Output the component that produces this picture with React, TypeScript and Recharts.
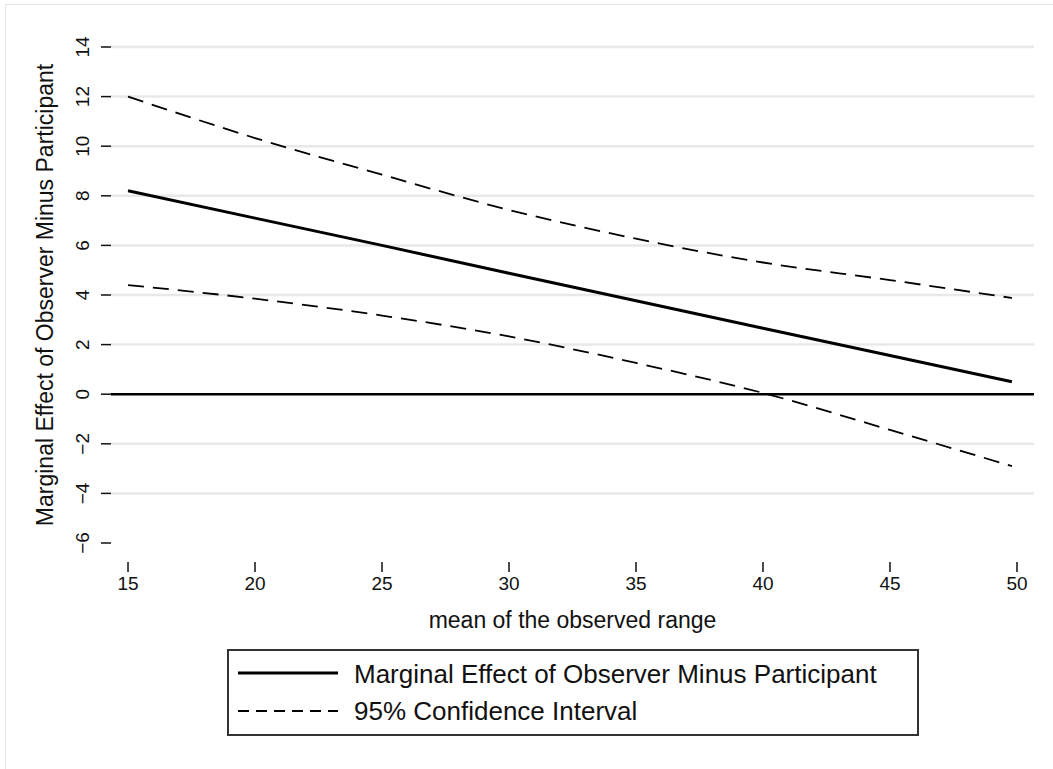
import { LineChart, Line, XAxis, YAxis, ReferenceLine, Legend } from "recharts";

const FONT = "'Liberation Sans', Arial, Helvetica, sans-serif";

// values
const meanRange = [15, 20, 25, 30, 35, 40, 45, 49.8];
const marginalEffect = [8.2, 7.1, 6.0, 4.88, 3.77, 2.66, 1.56, 0.5];
const upperCI = [12.0, 10.33, 8.85, 7.43, 6.27, 5.31, 4.6, 3.88];
const lowerCI = [4.4, 3.85, 3.17, 2.33, 1.26, 0.05, -1.44, -2.9];

const xTicks = [15, 20, 25, 30, 35, 40, 45, 50];
const yTicks = [-6, -4, -2, 0, 2, 4, 6, 8, 10, 12, 14];
const gridValues = [-4, -2, 2, 4, 6, 8, 10, 12, 14];

const EFFECT_LABEL = "Marginal Effect of Observer Minus Participant";
const CI_LABEL = "95% Confidence Interval";

const data = meanRange.map((x, i) => ({
  x,
  effect: marginalEffect[i],
  upper: upperCI[i],
  lower: lowerCI[i],
}));

const fmt = (v: number) => (v < 0 ? `\u2212${Math.abs(v)}` : `${v}`);

function YTick({ x, y, payload }: any) {
  return (
    <text
      x={x}
      y={y}
      transform={`rotate(-90, ${x}, ${y})`}
      textAnchor="middle"
      fontSize={19}
      fill="#111"
      fontFamily={FONT}
    >
      {fmt(payload.value)}
    </text>
  );
}

function XTick({ x, y, payload }: any) {
  return (
    <g>
      <line x1={x} x2={x} y1={y + 19} y2={y + 29} stroke="#111" strokeWidth={1.5} />
      <text x={x} y={y + 47} textAnchor="middle" fontSize={19} fill="#111" fontFamily={FONT}>
        {payload.value}
      </text>
    </g>
  );
}

function LegendBox() {
  return (
    <div
      style={{
        width: 692,
        height: 87,
        border: "2px solid #333",
        boxSizing: "border-box",
        background: "#fff",
      }}
    >
      <svg width={688} height={83} style={{ display: "block" }}>
        <line x1={9} x2={109} y1={22} y2={22} stroke="#000" strokeWidth={3} />
        <line x1={9} x2={109} y1={60} y2={60} stroke="#000" strokeWidth={1.8} strokeDasharray="11 7" />
        <text x={125} y={32} fontSize={26} fill="#111" fontFamily={FONT}>
          {EFFECT_LABEL}
        </text>
        <text x={125} y={69} fontSize={26} fill="#111" fontFamily={FONT}>
          {CI_LABEL}
        </text>
      </svg>
    </div>
  );
}

export default function App() {
  return (
    <div
      style={{
        position: "absolute",
        left: 0,
        top: 0,
        width: 1053,
        height: 769,
        overflow: "hidden",
        background: "#fff",
        fontFamily: FONT,
      }}
    >
      <div
        style={{
          position: "absolute",
          left: 5,
          top: 4,
          width: 1080,
          height: 800,
          border: "1.5px solid #e6e6e6",
        }}
      />
      <div style={{ position: "absolute", left: 0, top: 0 }}>
        <LineChart
          width={1053}
          height={769}
          data={data}
          margin={{ top: 47, right: 19, bottom: 126, left: 0 }}
        >
          <XAxis
            type="number"
            dataKey="x"
            domain={[14.33, 50.67]}
            ticks={xTicks}
            interval={0}
            height={100}
            axisLine={false}
            tickLine={false}
            tickSize={0}
            tickMargin={0}
            tick={<XTick />}
            label={({ viewBox }: any) => (
              <text
                x={viewBox.x + viewBox.width / 2}
                y={viewBox.y + 85}
                textAnchor="middle"
                fontSize={23}
                fill="#111"
                fontFamily={FONT}
              >
                mean of the observed range
              </text>
            )}
          />
          <YAxis
            type="number"
            domain={[-6, 14]}
            ticks={yTicks}
            interval={0}
            width={111}
            axisLine={false}
            tickSize={10}
            tickMargin={12}
            tickLine={{ stroke: "#111", strokeWidth: 1.5 }}
            tick={<YTick />}
            label={({ viewBox }: any) => {
              const cx = viewBox.x + 45;
              const cy = viewBox.y + viewBox.height / 2;
              return (
                <text
                  x={cx}
                  y={cy}
                  transform={`rotate(-90, ${cx}, ${cy})`}
                  textAnchor="middle"
                  dominantBaseline="central"
                  fontSize={23}
                  fill="#111"
                  fontFamily={FONT}
                >
                  {EFFECT_LABEL}
                </text>
              );
            }}
          />
          {gridValues.map((v) => (
            <ReferenceLine key={v} y={v} stroke="#e8e8e8" strokeWidth={2.5} />
          ))}
          <ReferenceLine y={0} stroke="#000" strokeWidth={2.5} />
          <Line
            dataKey="upper"
            name={CI_LABEL}
            type="monotone"
            stroke="#000"
            strokeWidth={1.8}
            strokeDasharray="16 9"
            dot={false}
            isAnimationActive={false}
          />
          <Line
            dataKey="lower"
            name={CI_LABEL}
            type="monotone"
            stroke="#000"
            strokeWidth={1.8}
            strokeDasharray="16 9"
            dot={false}
            isAnimationActive={false}
          />
          <Line
            dataKey="effect"
            name={EFFECT_LABEL}
            type="linear"
            stroke="#000"
            strokeWidth={3}
            dot={false}
            isAnimationActive={false}
          />
          <Legend
            layout="horizontal"
            verticalAlign="middle"
            align="center"
            content={() => <LegendBox />}
            wrapperStyle={{ left: 227, top: 649, width: 692, height: 87 }}
          />
        </LineChart>
      </div>
    </div>
  );
}
